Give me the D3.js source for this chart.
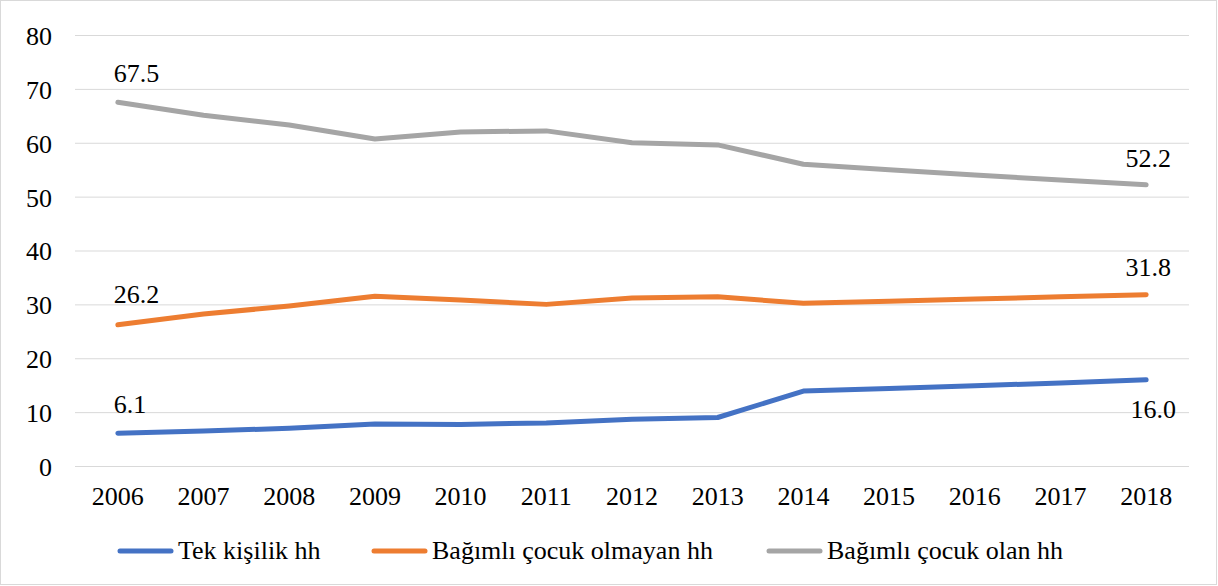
<!DOCTYPE html>
<html>
<head>
<meta charset="utf-8">
<script src="https://cdn.jsdelivr.net/npm/d3@7"></script>
</head>
<body style="margin:0">
<svg id="chart"></svg>
<script>
const years = ['2006','2007','2008','2009','2010','2011','2012','2013','2014','2015','2016','2017','2018'];
const tekKisilik = [6.1, 6.5, 7.0, 7.8, 7.7, 8.0, 8.7, 9.0, 13.9, 14.4, 14.9, 15.4, 16.0];
const cocukOlmayan = [26.2, 28.2, 29.7, 31.5, 30.8, 30.0, 31.2, 31.4, 30.2, 30.6, 31.0, 31.4, 31.8];
const cocukOlan = [67.5, 65.1, 63.3, 60.7, 62.0, 62.2, 60.0, 59.6, 56.0, 55.0, 54.0, 53.1, 52.2];
const seriesNames = ['Tek kişilik hh', 'Bağımlı çocuk olmayan hh', 'Bağımlı çocuk olan hh'];
const yTicks = [0, 10, 20, 30, 40, 50, 60, 70, 80];

const width = 1218, height = 586;
const margin = { left: 75, right: 29, top: 35, bottom: 120 };
const innerWidth = width - margin.left - margin.right;
const innerHeight = height - margin.top - margin.bottom; // 0 at y=466
const FONT = '"Liberation Serif"';

const colors = ['#4472C4', '#ED7D31', '#A5A5A5'];
const series = [tekKisilik, cocukOlmayan, cocukOlan];

const svg = d3.select('#chart').attr('width', width).attr('height', height);

svg.append('rect')
  .attr('x', 0.5).attr('y', 0.5)
  .attr('width', width - 2).attr('height', height - 2)
  .attr('fill', '#fff')
  .attr('stroke', '#d9d9d9');

const body = svg.append('g')
  .attr('transform', `translate(${margin.left},${margin.top})`);

const xScale = d3.scaleBand().domain(years).range([0, innerWidth]);
const yScale = d3.scaleLinear().domain([0, 80]).range([innerHeight, 0]);
const xPos = d => xScale(d) + xScale.bandwidth() / 2;

// gridlines + y labels
const leftAxis = d3.axisLeft(yScale).tickValues(yTicks).tickSize(-innerWidth).tickPadding(23);
const yg = body.append('g').call(leftAxis);
yg.attr('font-family', null).attr('font-size', null);
yg.select('.domain').remove();
yg.selectAll('.tick line').attr('stroke', '#d9d9d9').attr('stroke-width', 1);
yg.selectAll('.tick text')
  .attr('dy', '0.36em')
  .style('font-family', FONT).style('font-size', '26px').attr('fill', '#000');

// x labels
const xAxis = d3.axisBottom(xScale).tickSize(0).tickPadding(21);
const xg = body.append('g').attr('transform', `translate(0,${innerHeight})`).call(xAxis);
xg.attr('font-family', null).attr('font-size', null);
xg.select('.domain').remove();
xg.selectAll('.tick text')
  .style('font-family', FONT).style('font-size', '26px').attr('fill', '#000');

const line = d3.line()
  .x((d, i) => xPos(years[i]))
  .y(d => yScale(d));

series.forEach((s, k) => {
  body.append('path')
    .datum(s)
    .attr('d', line)
    .attr('fill', 'none')
    .attr('stroke', colors[k])
    .attr('stroke-width', 5)
    .attr('stroke-linecap', 'round')
    .attr('stroke-linejoin', 'round');
});

// data labels at first and last points
const labelFmt = d3.format('.1f');
const labels = [
  { s: 0, i: 0, dy: -20 },
  { s: 0, i: 12, dy: 38 },
  { s: 1, i: 0, dy: -22 },
  { s: 1, i: 12, dy: -19 },
  { s: 2, i: 0, dy: -20 },
  { s: 2, i: 12, dy: -18 }
];
labels.forEach(l => {
  const v = series[l.s][l.i];
  body.append('text')
    .attr('x', xPos(years[l.i]) + (l.i === 0 ? -4 : (l.s === 0 ? 7 : 2)))
    .attr('y', yScale(v) + l.dy)
    .attr('text-anchor', l.i === 0 ? 'start' : 'middle')
    .style('font-family', FONT).style('font-size', '26px')
    .attr('fill', '#000')
    .text(labelFmt(v));
});

// legend
const legendX = [178, 432, 827];
const legend = svg.append('g').attr('transform', 'translate(0,551)');
seriesNames.forEach((name, k) => {
  legend.append('line')
    .attr('x1', legendX[k] - 58).attr('x2', legendX[k] - 7)
    .attr('y1', 0).attr('y2', 0)
    .attr('stroke', colors[k])
    .attr('stroke-width', 5)
    .attr('stroke-linecap', 'round');
  legend.append('text')
    .attr('x', legendX[k])
    .attr('y', 8)
    .style('font-family', FONT).style('font-size', '26px')
    .attr('fill', '#000')
    .text(name);
});
</script>
</body>
</html>
